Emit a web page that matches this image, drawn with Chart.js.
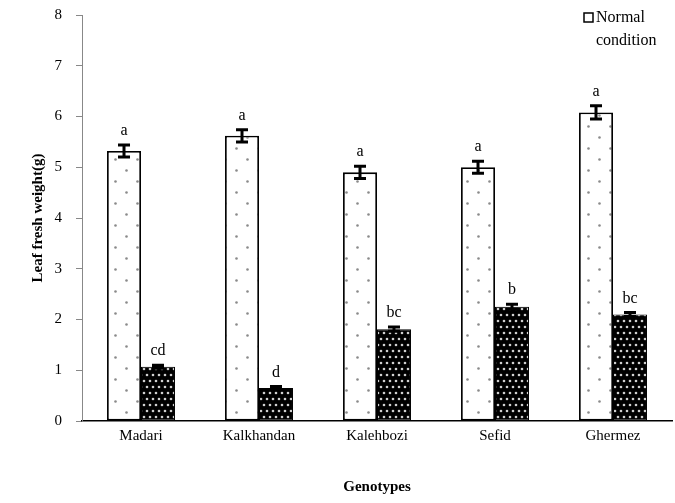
<!DOCTYPE html>
<html>
<head>
<meta charset="utf-8">
<script src="https://cdn.jsdelivr.net/npm/chart.js@4.4.1/dist/chart.umd.min.js"></script>
<style>
  html, body { margin: 0; padding: 0; background: #fff; }
  #wrap { width: 675px; height: 503px; position: relative; }
</style>
</head>
<body>
<div id="wrap"><canvas id="chart"></canvas></div>
<script>
const genotypes = ['Madari', 'Kalkhandan', 'Kalehbozi', 'Sefid', 'Ghermez'];
const normalValues = [5.32, 5.62, 4.90, 5.00, 6.08];
const normalErrors = [0.12, 0.12, 0.12, 0.12, 0.13];
const normalLetters = ['a', 'a', 'a', 'a', 'a'];
const stressValues = [1.07, 0.65, 1.81, 2.25, 2.10];
const stressErrors = [0.03, 0.03, 0.04, 0.05, 0.04];
const stressLetters = ['cd', 'd', 'bc', 'b', 'bc'];
const yTicks = [0, 1, 2, 3, 4, 5, 6, 7, 8];

const FONT = '"Liberation Serif", "Times New Roman", serif';

function makePattern(bg, dot, step, r, pts) {
  const c = document.createElement('canvas');
  c.width = step; c.height = step;
  const g = c.getContext('2d');
  g.fillStyle = bg; g.fillRect(0, 0, step, step);
  g.fillStyle = dot;
  pts.forEach(p => {
    [-step, 0, step].forEach(dx => [-step, 0, step].forEach(dy => {
      g.beginPath(); g.arc(p[0] * step + dx, p[1] * step + dy, r, 0, Math.PI * 2); g.fill();
    }));
  });
  return document.getElementById('chart').getContext('2d').createPattern(c, 'repeat');
}

const normalFill = makePattern('#ffffff', '#8a8a8a', 22, 1.3, [[0.25, 0.25], [0.75, 0.75]]);
const stressFill = makePattern('#000000', '#d0d0d0', 12, 1.3, [[0.25, 0.25], [0.75, 0.25], [0, 0.75], [0.5, 0.75]]);

const extrasPlugin = {
  id: 'extras',
  afterDatasetsDraw(chart) {
    const ctx = chart.ctx;
    const y = chart.scales.y;
    const sets = [[normalErrors, normalLetters], [stressErrors, stressLetters]];
    ctx.save();
    sets.forEach((s, di) => {
      const meta = chart.getDatasetMeta(di);
      const vals = chart.data.datasets[di].data;
      meta.data.forEach((bar, i) => {
        const x = bar.x;
        const top = y.getPixelForValue(vals[i] + s[0][i]);
        const bot = y.getPixelForValue(vals[i] - s[0][i]);
        ctx.strokeStyle = '#000';
        ctx.lineWidth = 3;
        ctx.beginPath();
        ctx.moveTo(x, top); ctx.lineTo(x, bot);
        ctx.moveTo(x - 6, top); ctx.lineTo(x + 6, top);
        ctx.moveTo(x - 6, bot); ctx.lineTo(x + 6, bot);
        ctx.stroke();
        ctx.fillStyle = '#000';
        ctx.font = '16px ' + FONT;
        ctx.textAlign = 'center';
        ctx.textBaseline = 'bottom';
        ctx.fillText(s[1][i], x, top - 6);
      });
    });
    // legend
    ctx.lineWidth = 1.5;
    ctx.strokeStyle = '#000';
    ctx.strokeRect(584, 13, 9, 9);
    ctx.font = '16px ' + FONT;
    ctx.textAlign = 'left';
    ctx.textBaseline = 'middle';
    ctx.fillText('Normal', 596, 18);
    ctx.fillText('condition', 596, 41);
    ctx.restore();
  }
};

new Chart(document.getElementById('chart'), {
  type: 'bar',
  data: {
    labels: genotypes,
    datasets: [
      { label: 'Normal condition', data: normalValues, backgroundColor: normalFill, borderColor: '#000', borderWidth: 1.8, borderSkipped: false },
      { label: 'Stress condition', data: stressValues, backgroundColor: stressFill, borderColor: '#000', borderWidth: 1, borderSkipped: false }
    ]
  },
  options: {
    responsive: true,
    maintainAspectRatio: false,
    animation: false,
    layout: { padding: { top: 15, right: 3, left: 0, bottom: 3 } },
    datasets: { bar: { categoryPercentage: 0.576, barPercentage: 1 } },
    plugins: { legend: { display: false }, tooltip: { enabled: false } },
    scales: {
      x: {
        grid: { display: false, drawTicks: false },
        border: { color: '#000', width: 1.5 },
        ticks: { color: '#000', font: { family: FONT, size: 15 }, padding: 6 },
        title: { display: true, text: 'Genotypes', color: '#000', font: { family: FONT, size: 15, weight: 'bold' }, padding: { top: 27 } }
      },
      y: {
        min: 0, max: 8,
        afterBuildTicks(scale) { scale.ticks = yTicks.map(v => ({ value: v })); },
        afterFit(scale) { scale.width = 82; scale.paddingTop = 0; scale.paddingBottom = 0; },
        grid: { display: true, drawOnChartArea: false, drawTicks: true, tickLength: 6, color: '#888' },
        border: { color: '#888', width: 1 },
        ticks: { color: '#000', font: { family: FONT, size: 15 }, padding: 14 },
        title: { display: true, text: 'Leaf fresh weight(g)', color: '#000', font: { family: FONT, size: 15, weight: 'bold' }, padding: { top: 29, bottom: 6 } }
      }
    }
  },
  plugins: [extrasPlugin]
});
</script>
</body>
</html>
